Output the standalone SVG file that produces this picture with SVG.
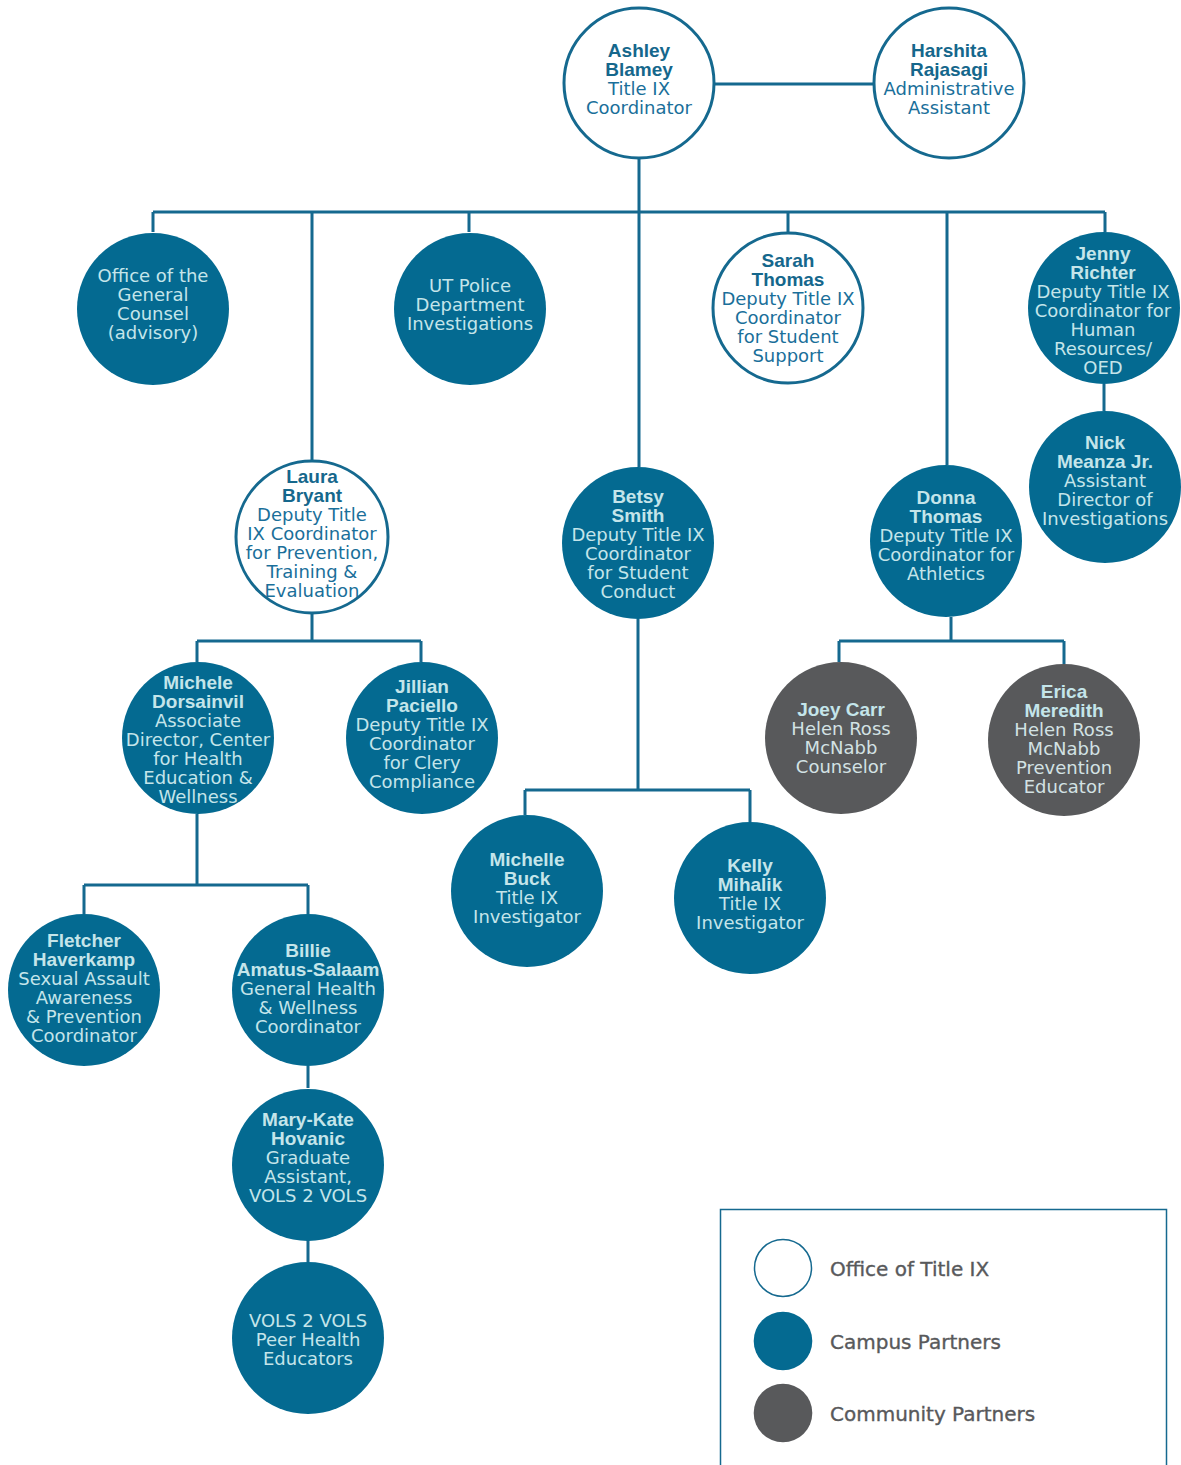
<svg xmlns="http://www.w3.org/2000/svg" width="1181" height="1465" viewBox="0 0 1181 1465">
<style>
.bg{fill:#ffffff}
.ln{stroke:#15698f;stroke-width:3;fill:none}
.off{fill:#ffffff;stroke:#15698f;stroke-width:3}
.cam{fill:#046a91}
.com{fill:#58595b}
text{font-family:"DejaVu Sans","Liberation Sans",sans-serif;font-size:18px;text-anchor:middle}
.nm{font-family:"Liberation Sans",Arial,sans-serif;font-weight:bold;font-size:19px}
.off-t text{fill:#1a6f9a}
.off-t .nm{fill:#15678c}
.cam-t text{fill:#c4e5ea}
.com-t text{fill:#d3e2e4}
.com-t .nm{fill:#c4e5ea}
.lg{font-size:20px;text-anchor:start;fill:#58595b;stroke:#58595b;stroke-width:0.35}
</style>
<rect class="bg" x="0" y="0" width="1181" height="1465"/>
<g id="connectors">
<path class="ln" d="M715 84H873"/>
<path class="ln" d="M639 159V467"/>
<path class="ln" d="M153 212H1105"/>
<path class="ln" d="M153 212V232M312 212V461M469 212V232M788 212V232M947 212V465M1105 212V232"/>
<path class="ln" d="M1104 384V411"/>
<path class="ln" d="M312 613V641M197 641H421M197 641V662M421 641V662"/>
<path class="ln" d="M197 814V885M84 885H308M84 885V914M308 885V914"/>
<path class="ln" d="M308 1066V1088M308 1240V1262"/>
<path class="ln" d="M638 619V790M525 790H750M525 790V815M750 790V822"/>
<path class="ln" d="M951 617V641M839 641H1064M839 641V662M1064 641V664"/>
</g>
<g id="ashley" class="off-t"><circle class="off" cx="639" cy="83" r="75"/>
<text x="639" y="57" class="nm">Ashley</text><text x="639" y="76" class="nm">Blamey</text><text x="639" y="95">Title IX</text><text x="639" y="114">Coordinator</text></g>
<g id="harshita" class="off-t"><circle class="off" cx="949" cy="83" r="75"/>
<text x="949" y="57" class="nm">Harshita</text><text x="949" y="76" class="nm">Rajasagi</text><text x="949" y="95">Administrative</text><text x="949" y="114">Assistant</text></g>
<g id="office-general-counsel" class="cam-t"><circle class="cam" cx="153" cy="309" r="76"/>
<text x="153" y="282">Office of the</text><text x="153" y="301">General</text><text x="153" y="320">Counsel</text><text x="153" y="339">(advisory)</text></g>
<g id="ut-police" class="cam-t"><circle class="cam" cx="470" cy="309" r="76"/>
<text x="470" y="292">UT Police</text><text x="470" y="311">Department</text><text x="470" y="330">Investigations</text></g>
<g id="sarah" class="off-t"><circle class="off" cx="788" cy="308" r="75"/>
<text x="788" y="267" class="nm">Sarah</text><text x="788" y="286" class="nm">Thomas</text><text x="788" y="305">Deputy Title IX</text><text x="788" y="324">Coordinator</text><text x="788" y="343">for Student</text><text x="788" y="362">Support</text></g>
<g id="jenny" class="cam-t"><circle class="cam" cx="1104" cy="308" r="76"/>
<text x="1103" y="259.5" class="nm">Jenny</text><text x="1103" y="278.5" class="nm">Richter</text><text x="1103" y="297.5">Deputy Title IX</text><text x="1103" y="316.5">Coordinator for</text><text x="1103" y="335.5">Human</text><text x="1103" y="354.5">Resources/</text><text x="1103" y="373.5">OED</text></g>
<g id="nick" class="cam-t"><circle class="cam" cx="1105" cy="487" r="76"/>
<text x="1105" y="449" class="nm">Nick</text><text x="1105" y="468" class="nm">Meanza Jr.</text><text x="1105" y="487">Assistant</text><text x="1105" y="506">Director of</text><text x="1105" y="525">Investigations</text></g>
<g id="laura" class="off-t"><circle class="off" cx="312" cy="537" r="76"/>
<text x="312" y="483" class="nm">Laura</text><text x="312" y="502" class="nm">Bryant</text><text x="312" y="521">Deputy Title</text><text x="312" y="540">IX Coordinator</text><text x="312" y="559">for Prevention,</text><text x="312" y="578">Training &amp;</text><text x="312" y="597">Evaluation</text></g>
<g id="betsy" class="cam-t"><circle class="cam" cx="638" cy="543" r="76"/>
<text x="638" y="502.5" class="nm">Betsy</text><text x="638" y="521.5" class="nm">Smith</text><text x="638" y="540.5">Deputy Title IX</text><text x="638" y="559.5">Coordinator</text><text x="638" y="578.5">for Student</text><text x="638" y="597.5">Conduct</text></g>
<g id="donna" class="cam-t"><circle class="cam" cx="946" cy="541" r="76"/>
<text x="946" y="504" class="nm">Donna</text><text x="946" y="523" class="nm">Thomas</text><text x="946" y="542">Deputy Title IX</text><text x="946" y="561">Coordinator for</text><text x="946" y="580">Athletics</text></g>
<g id="michele" class="cam-t"><circle class="cam" cx="198" cy="738" r="76"/>
<text x="198" y="688.5" class="nm">Michele</text><text x="198" y="707.5" class="nm">Dorsainvil</text><text x="198" y="726.5">Associate</text><text x="198" y="745.5">Director, Center</text><text x="198" y="764.5">for Health</text><text x="198" y="783.5">Education &amp;</text><text x="198" y="802.5">Wellness</text></g>
<g id="jillian" class="cam-t"><circle class="cam" cx="422" cy="738" r="76"/>
<text x="422" y="692.5" class="nm">Jillian</text><text x="422" y="711.5" class="nm">Paciello</text><text x="422" y="730.5">Deputy Title IX</text><text x="422" y="749.5">Coordinator</text><text x="422" y="768.5">for Clery</text><text x="422" y="788">Compliance</text></g>
<g id="joey" class="com-t"><circle class="com" cx="841" cy="738" r="76"/>
<text x="841" y="716" class="nm">Joey Carr</text><text x="841" y="735">Helen Ross</text><text x="841" y="754">McNabb</text><text x="841" y="773">Counselor</text></g>
<g id="erica" class="com-t"><circle class="com" cx="1064" cy="740" r="76"/>
<text x="1064" y="698" class="nm">Erica</text><text x="1064" y="717" class="nm">Meredith</text><text x="1064" y="736">Helen Ross</text><text x="1064" y="755">McNabb</text><text x="1064" y="774">Prevention</text><text x="1064" y="793">Educator</text></g>
<g id="michelle-buck" class="cam-t"><circle class="cam" cx="527" cy="891" r="76"/>
<text x="527" y="865.5" class="nm">Michelle</text><text x="527" y="884.5" class="nm">Buck</text><text x="527" y="903.5">Title IX</text><text x="527" y="922.5">Investigator</text></g>
<g id="kelly" class="cam-t"><circle class="cam" cx="750" cy="898" r="76"/>
<text x="750" y="871.5" class="nm">Kelly</text><text x="750" y="890.5" class="nm">Mihalik</text><text x="750" y="909.5">Title IX</text><text x="750" y="928.5">Investigator</text></g>
<g id="fletcher" class="cam-t"><circle class="cam" cx="84" cy="990" r="76"/>
<text x="84" y="946.5" class="nm">Fletcher</text><text x="84" y="965.5" class="nm">Haverkamp</text><text x="84" y="984.5">Sexual Assault</text><text x="84" y="1003.5">Awareness</text><text x="84" y="1022.5">&amp; Prevention</text><text x="84" y="1041.5">Coordinator</text></g>
<g id="billie" class="cam-t"><circle class="cam" cx="308" cy="990" r="76"/>
<text x="308" y="957" class="nm">Billie</text><text x="308" y="976" class="nm">Amatus-Salaam</text><text x="308" y="995">General Health</text><text x="308" y="1014">&amp; Wellness</text><text x="308" y="1033">Coordinator</text></g>
<g id="mary-kate" class="cam-t"><circle class="cam" cx="308" cy="1165" r="76"/>
<text x="308" y="1125.5" class="nm">Mary-Kate</text><text x="308" y="1144.5" class="nm">Hovanic</text><text x="308" y="1163.5">Graduate</text><text x="308" y="1182.5">Assistant,</text><text x="308" y="1201.5">VOLS 2 VOLS</text></g>
<g id="vols-peer" class="cam-t"><circle class="cam" cx="308" cy="1338" r="76"/>
<text x="308" y="1327">VOLS 2 VOLS</text><text x="308" y="1346">Peer Health</text><text x="308" y="1365">Educators</text></g>
<g id="legend">
<rect x="720.5" y="1209.5" width="446" height="300" fill="none" stroke="#15698f" stroke-width="1.5"/>
<circle cx="783" cy="1268" r="28.5" fill="#ffffff" stroke="#15698f" stroke-width="1.5"/>
<circle cx="783" cy="1341" r="29.3" class="cam"/>
<circle cx="783" cy="1413" r="29.3" class="com"/>
<text class="lg" x="830" y="1276">Office of Title IX</text>
<text class="lg" x="830" y="1349">Campus Partners</text>
<text class="lg" x="830" y="1421">Community Partners</text>
</g>
</svg>
